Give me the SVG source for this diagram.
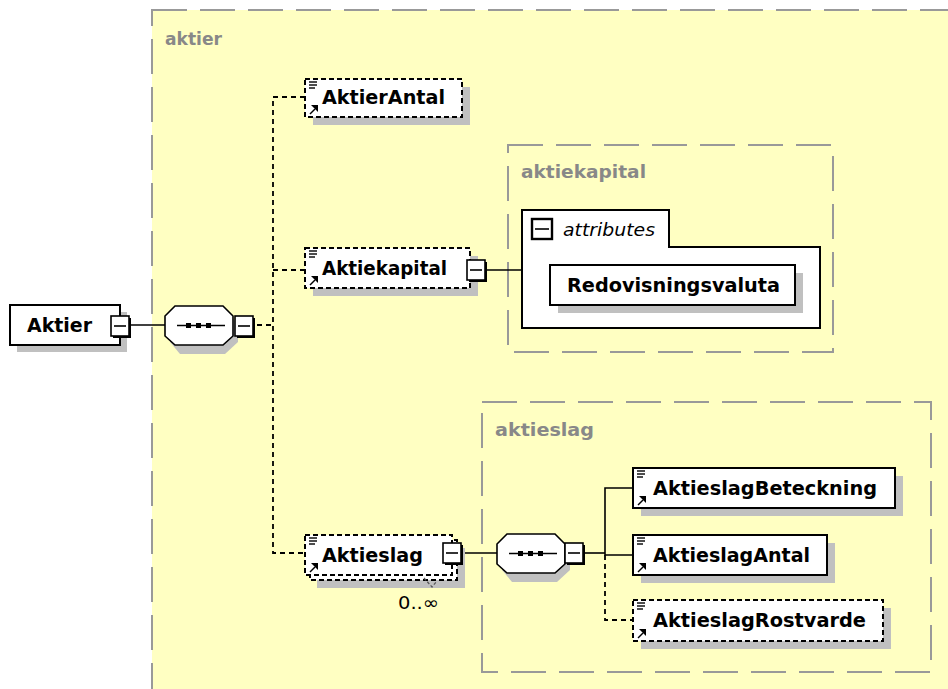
<svg xmlns="http://www.w3.org/2000/svg" width="948" height="689" viewBox="0 0 948 689">
  <style>
    .grp { fill: #FFFFC2; stroke: #999999; stroke-width: 2; stroke-dasharray: 35 13; }
    .glabel { font-family: "DejaVu Sans", "Liberation Sans", sans-serif; font-weight: bold; font-size: 17px; fill: #888888; }
    .name { font-family: "DejaVu Sans", "Liberation Sans", sans-serif; font-weight: bold; font-size: 19px; fill: #000; }
    .box { fill: #fff; stroke: #000; stroke-width: 2; }
    .dbox { fill: #fff; stroke: #000; stroke-width: 2; stroke-dasharray: 5 3; }
    .shadow { fill: #C0C0C0; }
    .conn { fill: none; stroke: #000; stroke-width: 1.6; }
    .dconn { fill: none; stroke: #000; stroke-width: 1.8; stroke-dasharray: 5 4; }
    .icon { fill: none; stroke: #000; stroke-width: 1.4; }
  </style>
  <defs>
    <!-- collapse button: box with a minus sign and a dark drop edge -->
    <g id="minus">
      <rect x="2" y="2" width="18" height="20" fill="#000"/>
      <rect x="0" y="0" width="18" height="20" fill="#fff" stroke="#000" stroke-width="1.6"/>
      <line x1="3" y1="10" x2="15" y2="10" stroke="#000" stroke-width="1.6"/>
    </g>
    <!-- element-reference icon: text lines at top left, link arrow at bottom left -->
    <g id="refTop">
      <line x1="4" y1="3" x2="12" y2="3" class="icon"/>
      <line x1="4" y1="6" x2="12" y2="6" class="icon"/>
      <line x1="4" y1="9" x2="10" y2="9" class="icon"/>
    </g>
    <g id="refBottom">
      <path d="M5,-3 L10,-8" class="icon" stroke-width="2.2"/>
      <path d="M6,-12 L13,-12 L13,-5 Z" fill="#000"/>
    </g>
    <!-- sequence compositor -->
    <g id="seq">
      <polygon points="15,5 60,5 73,18 73,36 60,48 15,48 5,36 5,18" class="shadow"/>
      <polygon points="10,0 58,0 68,10 68,30 58,39 10,39 0,30 0,10" fill="#fff" stroke="#000" stroke-width="1.6"/>
      <line x1="12" y1="19.5" x2="60" y2="19.5" stroke="#000" stroke-width="1.6"/>
      <rect x="21" y="17" width="5" height="5" fill="#000"/>
      <rect x="31" y="17" width="5" height="5" fill="#000"/>
      <rect x="41" y="17" width="5" height="5" fill="#000"/>
    </g>
  </defs>

  <!-- type groups -->
  <g id="grp-aktier">
    <rect x="152" y="10" width="820" height="700" class="grp"/>
    <text x="165" y="45" class="glabel" textLength="57" lengthAdjust="spacingAndGlyphs">aktier</text>
  </g>
  <g id="grp-aktiekapital">
    <rect x="508" y="145" width="325" height="207" class="grp"/>
    <text x="521" y="178" class="glabel" textLength="125" lengthAdjust="spacingAndGlyphs">aktiekapital</text>
  </g>
  <g id="grp-aktieslag">
    <rect x="482" y="402" width="449" height="270" class="grp"/>
    <text x="495" y="436" class="glabel" textLength="99" lengthAdjust="spacingAndGlyphs">aktieslag</text>
  </g>

  <!-- connectors -->
  <g id="connectors">
    <line x1="129" y1="325" x2="165" y2="325" class="conn"/>
    <path d="M257,325 H273" class="dconn"/>
    <path d="M305,97 H273 V553 H305" class="dconn"/>
    <path d="M273,270 H305" class="dconn"/>
    <line x1="487" y1="270" x2="522" y2="270" class="conn"/>
    <line x1="463" y1="553" x2="497" y2="553" class="conn"/>
    <path d="M585,553 H605" class="conn"/>
    <path d="M633,488 H605 V555 H633" class="conn"/>
    <path d="M605,555 V620 H633" class="dconn"/>
  </g>

  <!-- root element -->
  <g id="node-Aktier">
    <rect x="17" y="312" width="110" height="40" class="shadow"/>
    <rect x="10" y="305" width="110" height="40" class="box"/>
    <text x="27" y="332" class="name" textLength="65" lengthAdjust="spacingAndGlyphs">Aktier</text>
    <use href="#minus" x="111" y="316"/>
  </g>

  <g id="node-seq1">
    <use href="#seq" x="165" y="306"/>
    <use href="#minus" x="235" y="316"/>
  </g>

  <g id="node-AktierAntal">
    <rect x="313" y="87" width="157" height="38" class="shadow"/>
    <rect x="305" y="79" width="157" height="38" class="dbox"/>
    <use href="#refTop" x="305" y="79"/>
    <use href="#refBottom" x="305" y="117"/>
    <text x="322" y="104" class="name" textLength="123" lengthAdjust="spacingAndGlyphs">AktierAntal</text>
  </g>

  <g id="node-Aktiekapital">
    <rect x="313" y="256" width="165" height="40" class="shadow"/>
    <rect x="305" y="248" width="165" height="40" class="dbox"/>
    <use href="#refTop" x="305" y="248"/>
    <use href="#refBottom" x="305" y="288"/>
    <text x="322" y="275" class="name" textLength="125" lengthAdjust="spacingAndGlyphs">Aktiekapital</text>
    <use href="#minus" x="467" y="260"/>
  </g>

  <g id="node-attributes">
    <polygon points="522,210 669,210 669,247 820,247 820,328 522,328" class="box"/>
    <rect x="532" y="219" width="20" height="20" fill="#fff" stroke="#000" stroke-width="2.4"/>
    <line x1="535" y1="229" x2="549" y2="229" stroke="#000" stroke-width="1.6"/>
    <text x="563" y="236" font-family="DejaVu Sans, Liberation Sans, sans-serif" font-style="italic" font-size="17" fill="#000" textLength="92" lengthAdjust="spacingAndGlyphs">attributes</text>
  </g>

  <g id="node-Redovisningsvaluta">
    <rect x="558" y="273" width="245" height="40" class="shadow"/>
    <rect x="550" y="265" width="245" height="40" class="box"/>
    <text x="567" y="292" class="name" textLength="213" lengthAdjust="spacingAndGlyphs">Redovisningsvaluta</text>
  </g>

  <g id="node-Aktieslag">
    <rect x="317" y="548" width="148" height="40" class="shadow"/>
    <rect x="310" y="540" width="147" height="40" class="dbox"/>
    <rect x="305" y="535" width="147" height="40" class="dbox"/>
    <use href="#refTop" x="305" y="535"/>
    <use href="#refBottom" x="305" y="575"/>
    <text x="322" y="562" class="name" textLength="101" lengthAdjust="spacingAndGlyphs">Aktieslag</text>
    <use href="#minus" x="443" y="543"/>
    <path d="M424,578 L432,587 L437,581" fill="none" stroke="#555" stroke-width="1.2" stroke-dasharray="3 2"/>
    <text x="398" y="609" font-family="DejaVu Sans, Liberation Sans, sans-serif" font-size="18" fill="#000" textLength="41" lengthAdjust="spacingAndGlyphs">0..∞</text>
  </g>

  <g id="node-seq2">
    <use href="#seq" x="497" y="534"/>
    <use href="#minus" x="565" y="543"/>
  </g>

  <g id="node-AktieslagBeteckning">
    <rect x="641" y="476" width="262" height="40" class="shadow"/>
    <rect x="633" y="468" width="262" height="40" class="box"/>
    <use href="#refTop" x="633" y="468"/>
    <use href="#refBottom" x="633" y="508"/>
    <text x="653" y="495" class="name" textLength="224" lengthAdjust="spacingAndGlyphs">AktieslagBeteckning</text>
  </g>

  <g id="node-AktieslagAntal">
    <rect x="641" y="543" width="194" height="40" class="shadow"/>
    <rect x="633" y="535" width="194" height="40" class="box"/>
    <use href="#refTop" x="633" y="535"/>
    <use href="#refBottom" x="633" y="575"/>
    <text x="653" y="562" class="name" textLength="157" lengthAdjust="spacingAndGlyphs">AktieslagAntal</text>
  </g>

  <g id="node-AktieslagRostvarde">
    <rect x="641" y="608" width="250" height="41" class="shadow"/>
    <rect x="633" y="600" width="250" height="41" class="dbox"/>
    <use href="#refTop" x="633" y="600"/>
    <use href="#refBottom" x="633" y="641"/>
    <text x="653" y="627" class="name" textLength="213" lengthAdjust="spacingAndGlyphs">AktieslagRostvarde</text>
  </g>
</svg>
